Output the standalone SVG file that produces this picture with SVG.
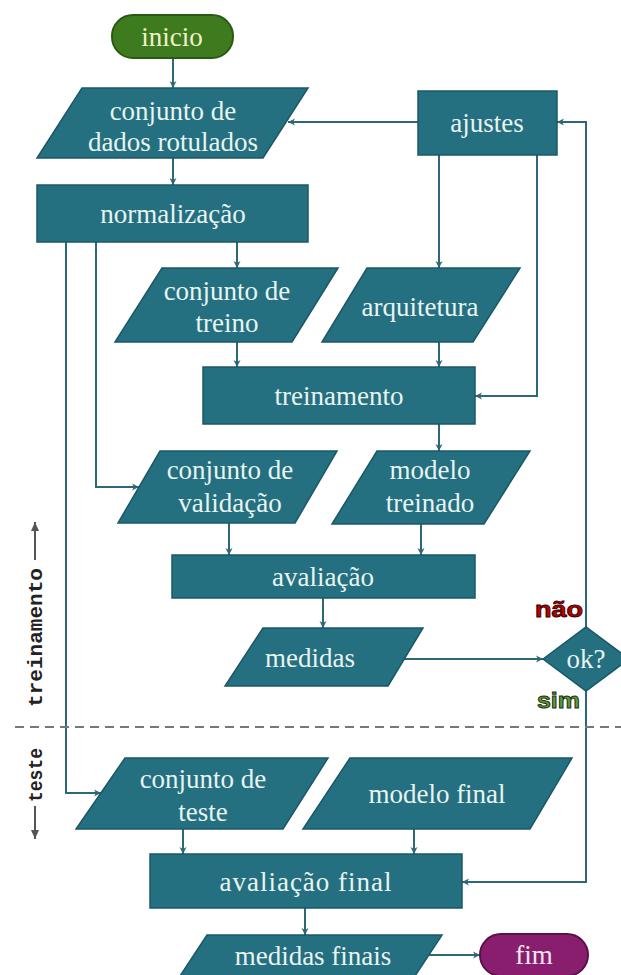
<svg xmlns="http://www.w3.org/2000/svg" width="621" height="975" viewBox="0 0 621 975">
<style>
.box{fill:#246f80;stroke:#1b5867;stroke-width:1.5}
.t{font-family:"Liberation Serif","Times New Roman",serif;font-size:27px;fill:#e8f4f0;text-anchor:middle}
.c{fill:none;stroke:#2c6878;stroke-width:2}
.side{font-family:"Liberation Mono","Courier New",monospace;font-weight:bold;fill:#222}
.lbl{font-family:"Liberation Sans",Arial,sans-serif;font-weight:bold;font-size:22px;stroke-width:0.9}
</style>
<defs>
<marker id="ah" markerWidth="8" markerHeight="8" refX="7" refY="4" orient="auto" markerUnits="userSpaceOnUse">
<path d="M0,0.5 L7,4 L0,7.5 L2,4 Z" fill="#2c6878"/>
</marker>
<marker id="gh" markerWidth="10" markerHeight="10" refX="9" refY="5" orient="auto" markerUnits="userSpaceOnUse">
<path d="M0,1 L9,5 L0,9 Z" fill="#555"/>
</marker>
</defs>
<rect width="621" height="975" fill="#fff"/>

<g id="connectors">
<path class="c" d="M173,58 V88" marker-end="url(#ah)"/>
<path class="c" d="M418,122 H288" marker-end="url(#ah)"/>
<path class="c" d="M173,158 V185" marker-end="url(#ah)"/>
<path class="c" d="M237,242 V268" marker-end="url(#ah)"/>
<path class="c" d="M439,155 V268" marker-end="url(#ah)"/>
<path class="c" d="M537,155 V396 H475" marker-end="url(#ah)"/>
<path class="c" d="M237,342 V367" marker-end="url(#ah)"/>
<path class="c" d="M439,342 V367" marker-end="url(#ah)"/>
<path class="c" d="M439,424 V451" marker-end="url(#ah)"/>
<path class="c" d="M96,242 V487 H139" marker-end="url(#ah)"/>
<path class="c" d="M229,523 V555" marker-end="url(#ah)"/>
<path class="c" d="M421,524 V555" marker-end="url(#ah)"/>
<path class="c" d="M323,598 V628" marker-end="url(#ah)"/>
<path class="c" d="M404,659 H543" marker-end="url(#ah)"/>
<path class="c" d="M586,627 V122 H557" marker-end="url(#ah)"/>
<path class="c" d="M586,691 V882 H462" marker-end="url(#ah)"/>
<path class="c" d="M66,242 V793 H101" marker-end="url(#ah)"/>
<path class="c" d="M183,829 V854" marker-end="url(#ah)"/>
<path class="c" d="M414,829 V854" marker-end="url(#ah)"/>
<path class="c" d="M305,908 V935" marker-end="url(#ah)"/>
<path class="c" d="M428,955 H480" marker-end="url(#ah)"/>
</g>

<g id="divider">
<line x1="15" y1="727" x2="621" y2="727" stroke="#777" stroke-width="2" stroke-dasharray="9 6"/>
<text class="side" font-size="20" transform="translate(42,707) rotate(-90)" textLength="139" lengthAdjust="spacingAndGlyphs">treinamento</text>
<line x1="35" y1="560" x2="35" y2="522" stroke="#555" stroke-width="2" marker-end="url(#gh)"/>
<text class="side" font-size="20" transform="translate(42,802) rotate(-90)" textLength="54" lengthAdjust="spacingAndGlyphs">teste</text>
<line x1="35" y1="806" x2="35" y2="839" stroke="#555" stroke-width="2" marker-end="url(#gh)"/>
</g>

<g id="inicio">
<rect x="112" y="15" width="121" height="43" rx="21" fill="#3e7b1f" stroke="#2a5a12" stroke-width="2"/>
<text class="t" x="172" y="46" style="fill:#f2f2cc">inicio</text>
</g>

<g id="dados">
<polygon class="box" points="82,88 308,88 263,158 37,158"/>
<text class="t" x="173" y="120">conjunto de</text>
<text class="t" x="173" y="151">dados rotulados</text>
</g>

<g id="ajustes">
<rect class="box" x="418" y="91" width="139" height="64"/>
<text class="t" x="487" y="132">ajustes</text>
</g>

<g id="normalizacao">
<rect class="box" x="37" y="185" width="271" height="57"/>
<text class="t" x="173" y="223">normalização</text>
</g>

<g id="treino">
<polygon class="box" points="162,268 338,268 292,342 115,342"/>
<text class="t" x="227" y="300">conjunto de</text>
<text class="t" x="227" y="332">treino</text>
</g>

<g id="arquitetura">
<polygon class="box" points="367,268 520,268 473,342 322,342"/>
<text class="t" x="420" y="316">arquitetura</text>
</g>

<g id="treinamento">
<rect class="box" x="203" y="367" width="272" height="57"/>
<text class="t" x="339" y="405">treinamento</text>
</g>

<g id="validacao">
<polygon class="box" points="160,451 337,451 295,523 118,523"/>
<text class="t" x="230" y="479">conjunto de</text>
<text class="t" x="230" y="512">validação</text>
</g>

<g id="modelo_treinado">
<polygon class="box" points="377,451 530,451 484,524 332,524"/>
<text class="t" x="430" y="479">modelo</text>
<text class="t" x="430" y="512">treinado</text>
</g>

<g id="avaliacao">
<rect class="box" x="172" y="555" width="303" height="43"/>
<text class="t" x="323" y="586">avaliação</text>
</g>

<g id="medidas">
<polygon class="box" points="263,628 423,628 388,686 225,686"/>
<text class="t" x="310" y="667">medidas</text>
</g>

<g id="ok">
<polygon class="box" points="543,659 586,627 629,659 586,691"/>
<text class="t" x="586" y="668">ok?</text>
</g>

<g id="labels">
<text class="lbl" x="535" y="617" fill="#c00000" stroke="#300" textLength="48" lengthAdjust="spacingAndGlyphs">não</text>
<text class="lbl" x="537" y="708" fill="#5d9a3a" stroke="#1d3010" textLength="43" lengthAdjust="spacingAndGlyphs">sim</text>
</g>

<g id="teste">
<polygon class="box" points="125,758 328,758 283,829 76,829"/>
<text class="t" x="203" y="788">conjunto de</text>
<text class="t" x="203" y="821">teste</text>
</g>

<g id="modelo_final">
<polygon class="box" points="350,758 572,758 530,829 303,829"/>
<text class="t" x="437" y="803">modelo final</text>
</g>

<g id="avaliacao_final">
<rect class="box" x="150" y="854" width="312" height="54"/>
<text class="t" x="306" y="891" letter-spacing="1">avaliação final</text>
</g>

<g id="medidas_finais">
<polygon class="box" points="207,935 442,935 415,976 180,976"/>
<text class="t" x="313" y="965">medidas finais</text>
</g>

<g id="fim">
<rect x="480" y="934" width="108" height="42" rx="21" fill="#8a1e6e" stroke="#5a1048" stroke-width="2"/>
<text class="t" x="534" y="964" style="fill:#f4e6f0">fim</text>
</g>
</svg>
